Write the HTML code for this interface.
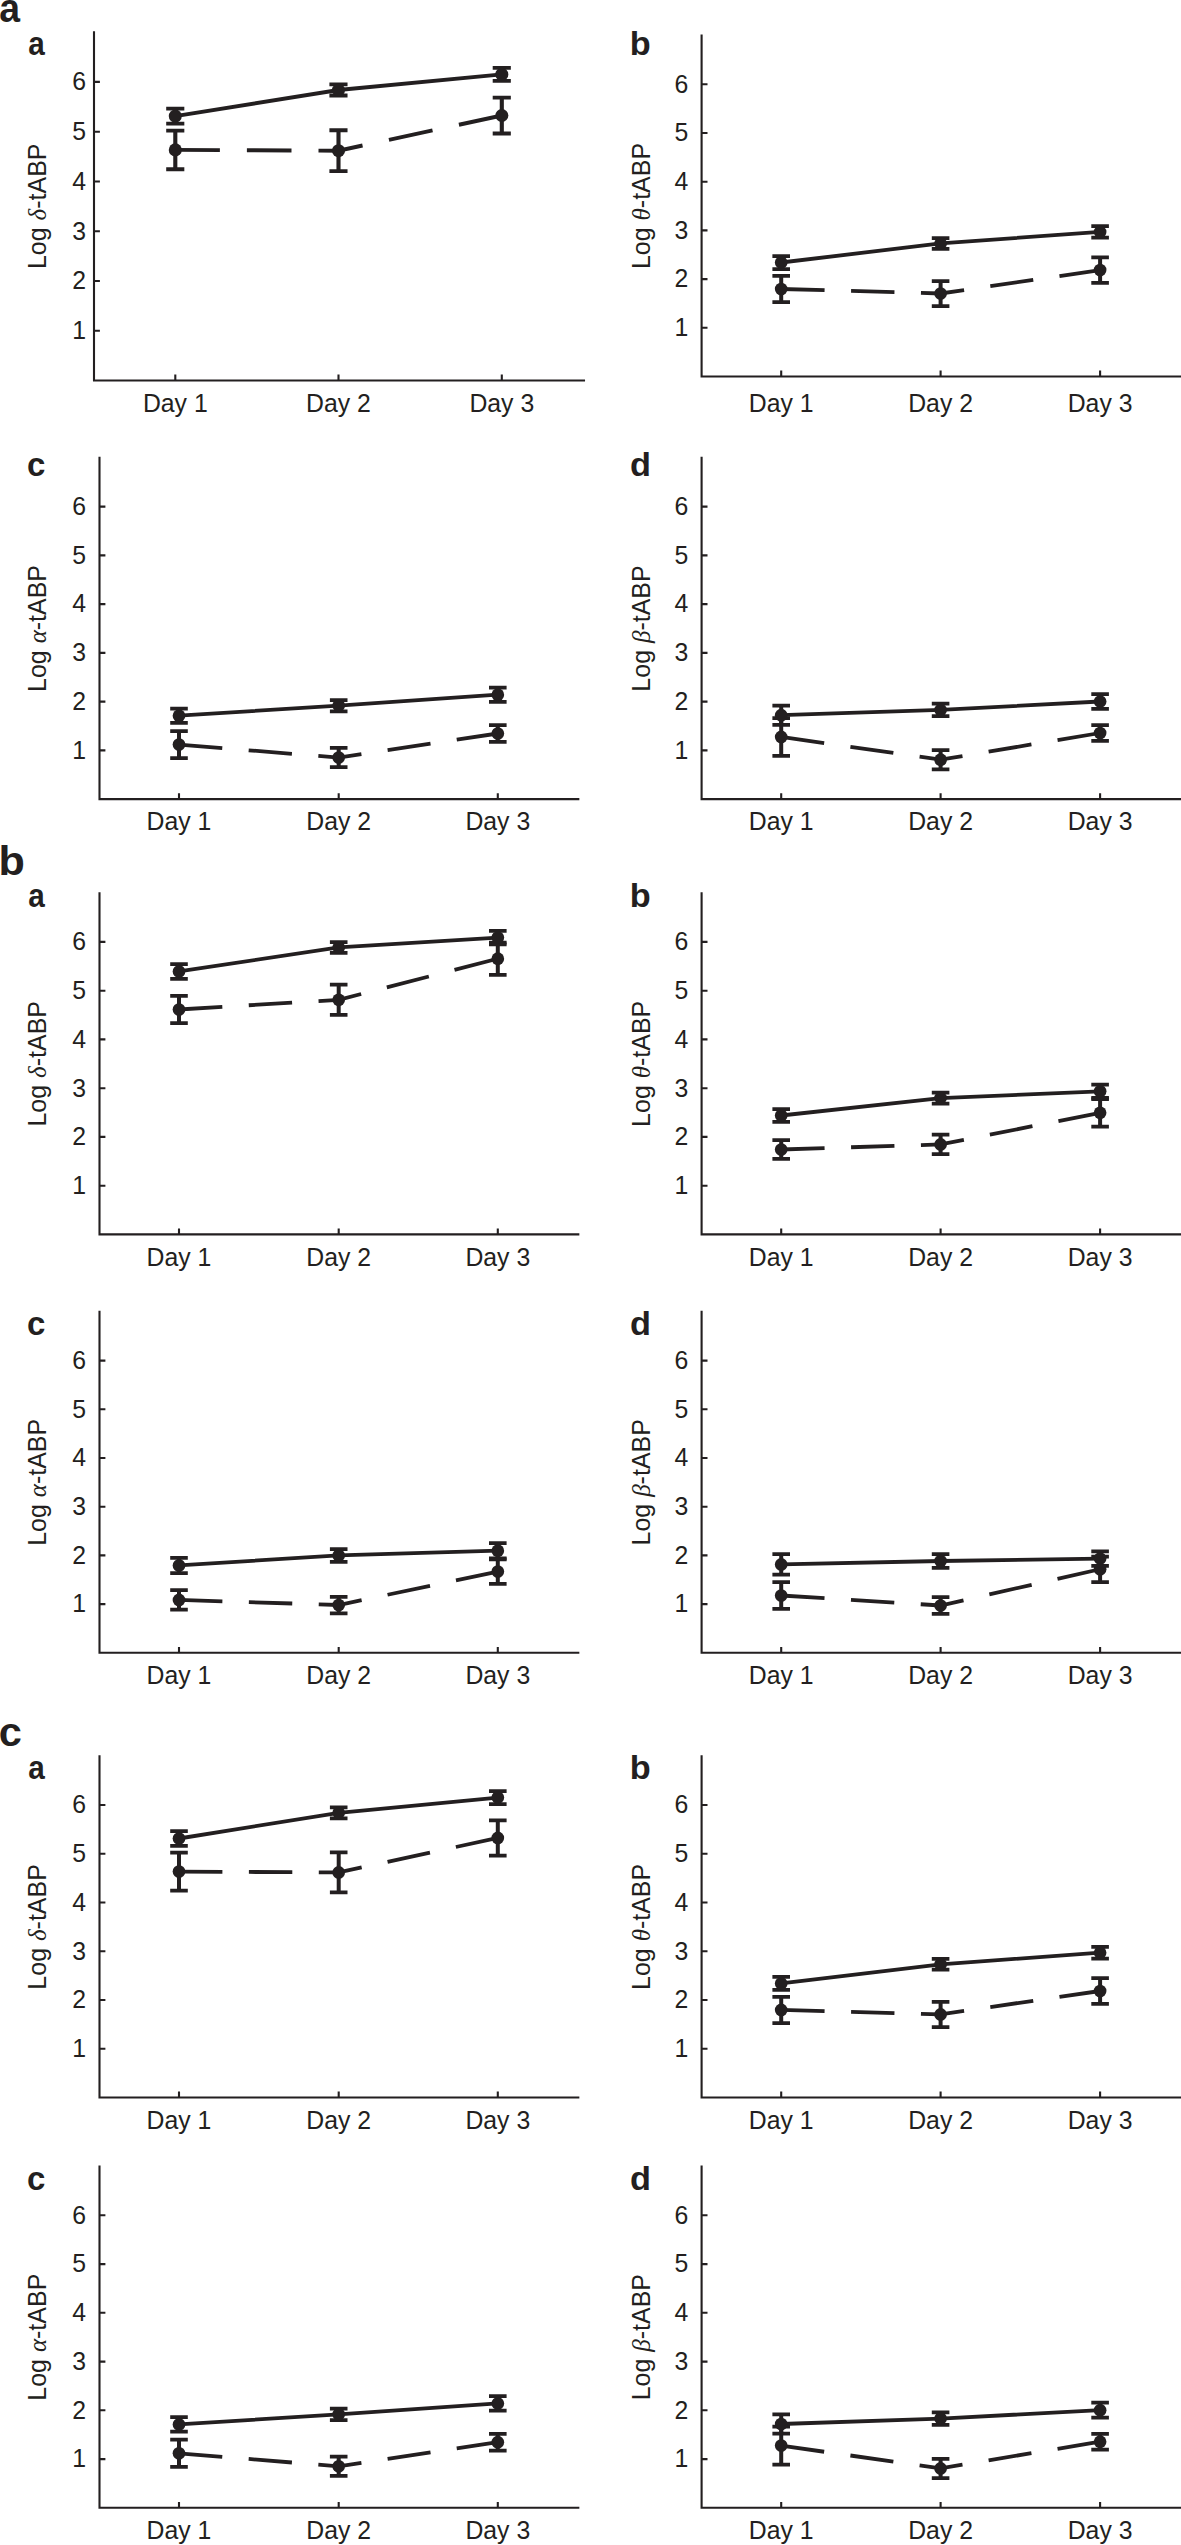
<!DOCTYPE html>
<html><head><meta charset="utf-8"><style>
html,body{margin:0;padding:0;background:#fff;}
svg{display:block;}
text{font-family:"Liberation Sans",sans-serif;font-size:24.8px;fill:#231f20;}
.g{font-family:"Liberation Serif",serif;font-style:italic;}
circle{fill:#231f20;}
path,polyline{fill:none;}
</style></head><body>
<svg width="1181" height="2545" viewBox="0 0 1181 2545">
<g><path d="M94.0 32.2V380.5H584.0" fill="none" stroke="#231f20" stroke-width="2.1" stroke-linecap="square"/><path d="M94.0 330.7h5.9M94.0 281.0h5.9M94.0 231.2h5.9M94.0 181.5h5.9M94.0 131.7h5.9M94.0 81.9h5.9M175.3 380.5v-5.9M338.5 380.5v-5.9M501.8 380.5v-5.9" stroke="#231f20" stroke-width="2.1"/><text transform="translate(86.1 339.0) scale(1 1.06)" text-anchor="end">1</text><text transform="translate(86.1 289.3) scale(1 1.06)" text-anchor="end">2</text><text transform="translate(86.1 239.5) scale(1 1.06)" text-anchor="end">3</text><text transform="translate(86.1 189.8) scale(1 1.06)" text-anchor="end">4</text><text transform="translate(86.1 140.0) scale(1 1.06)" text-anchor="end">5</text><text transform="translate(86.1 90.2) scale(1 1.06)" text-anchor="end">6</text><text transform="translate(175.3 411.6) scale(1 1.06)" text-anchor="middle">Day 1</text><text transform="translate(338.5 411.6) scale(1 1.06)" text-anchor="middle">Day 2</text><text transform="translate(501.8 411.6) scale(1 1.06)" text-anchor="middle">Day 3</text><text transform="translate(45.9 206.3) rotate(-90) scale(1 1.03)" text-anchor="middle" style="font-size:25.0px">Log <tspan class="g">δ</tspan>-tABP</text><text transform="translate(28.2 55.1) scale(0.9 1)" style="font-size:33px;font-weight:bold">a</text><polyline points="175.3,149.9 338.5,150.7 501.8,115.5" fill="none" stroke="#231f20" stroke-width="3.91" stroke-dasharray="44.6 27"/><path d="M175.3 130.6V169.3" stroke="#231f20" stroke-width="4.12"/><path d="M166.2 130.6h18.13M166.2 169.3h18.13" stroke="#231f20" stroke-width="3.86"/><circle cx="175.3" cy="149.9" r="6.54"/><path d="M338.5 130.3V171.1" stroke="#231f20" stroke-width="4.12"/><path d="M329.4 130.3h18.13M329.4 171.1h18.13" stroke="#231f20" stroke-width="3.86"/><circle cx="338.5" cy="150.7" r="6.54"/><path d="M501.8 97.6V133.5" stroke="#231f20" stroke-width="4.12"/><path d="M492.7 97.6h18.13M492.7 133.5h18.13" stroke="#231f20" stroke-width="3.86"/><circle cx="501.8" cy="115.5" r="6.54"/><polyline points="175.3,116.1 338.5,90.0 501.8,74.4" fill="none" stroke="#231f20" stroke-width="3.91"/><path d="M175.3 108.6V123.6" stroke="#231f20" stroke-width="4.12"/><path d="M166.2 108.6h18.13M166.2 123.6h18.13" stroke="#231f20" stroke-width="3.86"/><circle cx="175.3" cy="116.1" r="6.54"/><path d="M338.5 84.4V95.5" stroke="#231f20" stroke-width="4.12"/><path d="M329.4 84.4h18.13M329.4 95.5h18.13" stroke="#231f20" stroke-width="3.86"/><circle cx="338.5" cy="90.0" r="6.54"/><path d="M501.8 67.9V80.9" stroke="#231f20" stroke-width="4.12"/><path d="M492.7 67.9h18.13M492.7 80.9h18.13" stroke="#231f20" stroke-width="3.86"/><circle cx="501.8" cy="74.4" r="6.54"/></g><g><path d="M701.6 35.6V376.5H1181.0" fill="none" stroke="#231f20" stroke-width="2.1" stroke-linecap="square"/><path d="M701.6 327.8h5.9M701.6 279.1h5.9M701.6 230.4h5.9M701.6 181.7h5.9M701.6 133.0h5.9M701.6 84.3h5.9M781.2 376.5v-5.9M940.6 376.5v-5.9M1100.1 376.5v-5.9" stroke="#231f20" stroke-width="2.1"/><text transform="translate(688.4 336.1) scale(1 1.06)" text-anchor="end">1</text><text transform="translate(688.4 287.4) scale(1 1.06)" text-anchor="end">2</text><text transform="translate(688.4 238.7) scale(1 1.06)" text-anchor="end">3</text><text transform="translate(688.4 190.0) scale(1 1.06)" text-anchor="end">4</text><text transform="translate(688.4 141.3) scale(1 1.06)" text-anchor="end">5</text><text transform="translate(688.4 92.6) scale(1 1.06)" text-anchor="end">6</text><text transform="translate(781.2 411.5) scale(1 1.06)" text-anchor="middle">Day 1</text><text transform="translate(940.6 411.5) scale(1 1.06)" text-anchor="middle">Day 2</text><text transform="translate(1100.1 411.5) scale(1 1.06)" text-anchor="middle">Day 3</text><text transform="translate(649.6 206.0) rotate(-90) scale(1 1.03)" text-anchor="middle" style="font-size:25.0px">Log <tspan class="g">θ</tspan>-tABP</text><text transform="translate(629.8 55.1) scale(1.04 1)" style="font-size:33px;font-weight:bold">b</text><polyline points="781.2,289.0 940.6,293.5 1100.1,270.1" fill="none" stroke="#231f20" stroke-width="3.80" stroke-dasharray="43.4 26.5"/><path d="M781.2 275.9V302.1" stroke="#231f20" stroke-width="4.00"/><path d="M772.4 275.9h17.60M772.4 302.1h17.60" stroke="#231f20" stroke-width="3.75"/><circle cx="781.2" cy="289.0" r="6.35"/><path d="M940.6 281.0V306.0" stroke="#231f20" stroke-width="4.00"/><path d="M931.8 281.0h17.60M931.8 306.0h17.60" stroke="#231f20" stroke-width="3.75"/><circle cx="940.6" cy="293.5" r="6.35"/><path d="M1100.1 257.3V282.9" stroke="#231f20" stroke-width="4.00"/><path d="M1091.3 257.3h17.60M1091.3 282.9h17.60" stroke="#231f20" stroke-width="3.75"/><circle cx="1100.1" cy="270.1" r="6.35"/><polyline points="781.2,262.5 940.6,243.4 1100.1,231.9" fill="none" stroke="#231f20" stroke-width="3.80"/><path d="M781.2 256.1V269.0" stroke="#231f20" stroke-width="4.00"/><path d="M772.4 256.1h17.60M772.4 269.0h17.60" stroke="#231f20" stroke-width="3.75"/><circle cx="781.2" cy="262.5" r="6.35"/><path d="M940.6 238.0V248.8" stroke="#231f20" stroke-width="4.00"/><path d="M931.8 238.0h17.60M931.8 248.8h17.60" stroke="#231f20" stroke-width="3.75"/><circle cx="940.6" cy="243.4" r="6.35"/><path d="M1100.1 226.0V237.7" stroke="#231f20" stroke-width="4.00"/><path d="M1091.3 226.0h17.60M1091.3 237.7h17.60" stroke="#231f20" stroke-width="3.75"/><circle cx="1100.1" cy="231.9" r="6.35"/></g><g><path d="M99.5 457.9V799.1H578.3" fill="none" stroke="#231f20" stroke-width="2.1" stroke-linecap="square"/><path d="M99.5 750.4h5.9M99.5 701.6h5.9M99.5 652.9h5.9M99.5 604.1h5.9M99.5 555.4h5.9M99.5 506.6h5.9M179.0 799.1v-5.9M338.7 799.1v-5.9M497.8 799.1v-5.9" stroke="#231f20" stroke-width="2.1"/><text transform="translate(86.1 758.6) scale(1 1.06)" text-anchor="end">1</text><text transform="translate(86.1 709.9) scale(1 1.06)" text-anchor="end">2</text><text transform="translate(86.1 661.1) scale(1 1.06)" text-anchor="end">3</text><text transform="translate(86.1 612.4) scale(1 1.06)" text-anchor="end">4</text><text transform="translate(86.1 563.6) scale(1 1.06)" text-anchor="end">5</text><text transform="translate(86.1 514.9) scale(1 1.06)" text-anchor="end">6</text><text transform="translate(179.0 830.2) scale(1 1.06)" text-anchor="middle">Day 1</text><text transform="translate(338.7 830.2) scale(1 1.06)" text-anchor="middle">Day 2</text><text transform="translate(497.8 830.2) scale(1 1.06)" text-anchor="middle">Day 3</text><text transform="translate(45.9 628.5) rotate(-90) scale(1 1.03)" text-anchor="middle" style="font-size:25.0px">Log <tspan class="g">α</tspan>-tABP</text><text x="26.9" y="475.7" style="font-size:33px;font-weight:bold">c</text><polyline points="179.0,744.6 338.7,757.6 497.8,733.5" fill="none" stroke="#231f20" stroke-width="3.80" stroke-dasharray="43.4 26.5"/><path d="M179.0 731.0V758.1" stroke="#231f20" stroke-width="4.00"/><path d="M170.2 731.0h17.60M170.2 758.1h17.60" stroke="#231f20" stroke-width="3.75"/><circle cx="179.0" cy="744.6" r="6.35"/><path d="M338.7 747.9V767.2" stroke="#231f20" stroke-width="4.00"/><path d="M329.9 747.9h17.60M329.9 767.2h17.60" stroke="#231f20" stroke-width="3.75"/><circle cx="338.7" cy="757.6" r="6.35"/><path d="M497.8 725.1V741.9" stroke="#231f20" stroke-width="4.00"/><path d="M489.0 725.1h17.60M489.0 741.9h17.60" stroke="#231f20" stroke-width="3.75"/><circle cx="497.8" cy="733.5" r="6.35"/><polyline points="179.0,715.7 338.7,705.6 497.8,694.7" fill="none" stroke="#231f20" stroke-width="3.80"/><path d="M179.0 708.5V722.9" stroke="#231f20" stroke-width="4.00"/><path d="M170.2 708.5h17.60M170.2 722.9h17.60" stroke="#231f20" stroke-width="3.75"/><circle cx="179.0" cy="715.7" r="6.35"/><path d="M338.7 700.0V711.3" stroke="#231f20" stroke-width="4.00"/><path d="M329.9 700.0h17.60M329.9 711.3h17.60" stroke="#231f20" stroke-width="3.75"/><circle cx="338.7" cy="705.6" r="6.35"/><path d="M497.8 687.5V701.9" stroke="#231f20" stroke-width="4.00"/><path d="M489.0 687.5h17.60M489.0 701.9h17.60" stroke="#231f20" stroke-width="3.75"/><circle cx="497.8" cy="694.7" r="6.35"/></g><g><path d="M701.6 457.9V799.1H1181.0" fill="none" stroke="#231f20" stroke-width="2.1" stroke-linecap="square"/><path d="M701.6 750.4h5.9M701.6 701.6h5.9M701.6 652.9h5.9M701.6 604.1h5.9M701.6 555.4h5.9M701.6 506.6h5.9M781.2 799.1v-5.9M940.6 799.1v-5.9M1100.1 799.1v-5.9" stroke="#231f20" stroke-width="2.1"/><text transform="translate(688.4 758.6) scale(1 1.06)" text-anchor="end">1</text><text transform="translate(688.4 709.9) scale(1 1.06)" text-anchor="end">2</text><text transform="translate(688.4 661.1) scale(1 1.06)" text-anchor="end">3</text><text transform="translate(688.4 612.4) scale(1 1.06)" text-anchor="end">4</text><text transform="translate(688.4 563.6) scale(1 1.06)" text-anchor="end">5</text><text transform="translate(688.4 514.9) scale(1 1.06)" text-anchor="end">6</text><text transform="translate(781.2 830.2) scale(1 1.06)" text-anchor="middle">Day 1</text><text transform="translate(940.6 830.2) scale(1 1.06)" text-anchor="middle">Day 2</text><text transform="translate(1100.1 830.2) scale(1 1.06)" text-anchor="middle">Day 3</text><text transform="translate(649.6 628.5) rotate(-90) scale(1 1.03)" text-anchor="middle" style="font-size:25.0px">Log <tspan class="g">β</tspan>-tABP</text><text transform="translate(630.0 475.7) scale(1.04 1)" style="font-size:33px;font-weight:bold">d</text><polyline points="781.2,736.9 940.6,759.7 1100.1,733.0" fill="none" stroke="#231f20" stroke-width="3.80" stroke-dasharray="43.4 26.5"/><path d="M781.2 718.0V755.9" stroke="#231f20" stroke-width="4.00"/><path d="M772.4 718.0h17.60M772.4 755.9h17.60" stroke="#231f20" stroke-width="3.75"/><circle cx="781.2" cy="736.9" r="6.35"/><path d="M940.6 750.1V769.3" stroke="#231f20" stroke-width="4.00"/><path d="M931.8 750.1h17.60M931.8 769.3h17.60" stroke="#231f20" stroke-width="3.75"/><circle cx="940.6" cy="759.7" r="6.35"/><path d="M1100.1 725.2V740.8" stroke="#231f20" stroke-width="4.00"/><path d="M1091.3 725.2h17.60M1091.3 740.8h17.60" stroke="#231f20" stroke-width="3.75"/><circle cx="1100.1" cy="733.0" r="6.35"/><polyline points="781.2,715.2 940.6,709.9 1100.1,701.5" fill="none" stroke="#231f20" stroke-width="3.80"/><path d="M781.2 705.6V724.9" stroke="#231f20" stroke-width="4.00"/><path d="M772.4 705.6h17.60M772.4 724.9h17.60" stroke="#231f20" stroke-width="3.75"/><circle cx="781.2" cy="715.2" r="6.35"/><path d="M940.6 703.7V716.2" stroke="#231f20" stroke-width="4.00"/><path d="M931.8 703.7h17.60M931.8 716.2h17.60" stroke="#231f20" stroke-width="3.75"/><circle cx="940.6" cy="709.9" r="6.35"/><path d="M1100.1 694.0V708.9" stroke="#231f20" stroke-width="4.00"/><path d="M1091.3 694.0h17.60M1091.3 708.9h17.60" stroke="#231f20" stroke-width="3.75"/><circle cx="1100.1" cy="701.5" r="6.35"/></g><g><path d="M99.5 893.2V1234.4H578.3" fill="none" stroke="#231f20" stroke-width="2.1" stroke-linecap="square"/><path d="M99.5 1185.7h5.9M99.5 1136.9h5.9M99.5 1088.2h5.9M99.5 1039.4h5.9M99.5 990.7h5.9M99.5 941.9h5.9M179.0 1234.4v-5.9M338.7 1234.4v-5.9M497.8 1234.4v-5.9" stroke="#231f20" stroke-width="2.1"/><text transform="translate(86.1 1194.0) scale(1 1.06)" text-anchor="end">1</text><text transform="translate(86.1 1145.2) scale(1 1.06)" text-anchor="end">2</text><text transform="translate(86.1 1096.5) scale(1 1.06)" text-anchor="end">3</text><text transform="translate(86.1 1047.7) scale(1 1.06)" text-anchor="end">4</text><text transform="translate(86.1 999.0) scale(1 1.06)" text-anchor="end">5</text><text transform="translate(86.1 950.2) scale(1 1.06)" text-anchor="end">6</text><text transform="translate(179.0 1265.5) scale(1 1.06)" text-anchor="middle">Day 1</text><text transform="translate(338.7 1265.5) scale(1 1.06)" text-anchor="middle">Day 2</text><text transform="translate(497.8 1265.5) scale(1 1.06)" text-anchor="middle">Day 3</text><text transform="translate(45.9 1063.8) rotate(-90) scale(1 1.03)" text-anchor="middle" style="font-size:25.0px">Log <tspan class="g">δ</tspan>-tABP</text><text transform="translate(28.2 906.5) scale(0.9 1)" style="font-size:33px;font-weight:bold">a</text><polyline points="179.0,1009.5 338.7,999.8 497.8,958.7" fill="none" stroke="#231f20" stroke-width="3.80" stroke-dasharray="43.4 26.5"/><path d="M179.0 995.9V1023.0" stroke="#231f20" stroke-width="4.00"/><path d="M170.2 995.9h17.60M170.2 1023.0h17.60" stroke="#231f20" stroke-width="3.75"/><circle cx="179.0" cy="1009.5" r="6.35"/><path d="M338.7 984.7V1014.8" stroke="#231f20" stroke-width="4.00"/><path d="M329.9 984.7h17.60M329.9 1014.8h17.60" stroke="#231f20" stroke-width="3.75"/><circle cx="338.7" cy="999.8" r="6.35"/><path d="M497.8 942.6V974.8" stroke="#231f20" stroke-width="4.00"/><path d="M489.0 942.6h17.60M489.0 974.8h17.60" stroke="#231f20" stroke-width="3.75"/><circle cx="497.8" cy="958.7" r="6.35"/><polyline points="179.0,971.4 338.7,947.4 497.8,937.6" fill="none" stroke="#231f20" stroke-width="3.80"/><path d="M179.0 964.0V978.9" stroke="#231f20" stroke-width="4.00"/><path d="M170.2 964.0h17.60M170.2 978.9h17.60" stroke="#231f20" stroke-width="3.75"/><circle cx="179.0" cy="971.4" r="6.35"/><path d="M338.7 942.0V952.8" stroke="#231f20" stroke-width="4.00"/><path d="M329.9 942.0h17.60M329.9 952.8h17.60" stroke="#231f20" stroke-width="3.75"/><circle cx="338.7" cy="947.4" r="6.35"/><path d="M497.8 930.8V944.3" stroke="#231f20" stroke-width="4.00"/><path d="M489.0 930.8h17.60M489.0 944.3h17.60" stroke="#231f20" stroke-width="3.75"/><circle cx="497.8" cy="937.6" r="6.35"/></g><g><path d="M701.6 893.2V1234.4H1181.0" fill="none" stroke="#231f20" stroke-width="2.1" stroke-linecap="square"/><path d="M701.6 1185.7h5.9M701.6 1136.9h5.9M701.6 1088.2h5.9M701.6 1039.4h5.9M701.6 990.7h5.9M701.6 941.9h5.9M781.2 1234.4v-5.9M940.6 1234.4v-5.9M1100.1 1234.4v-5.9" stroke="#231f20" stroke-width="2.1"/><text transform="translate(688.4 1194.0) scale(1 1.06)" text-anchor="end">1</text><text transform="translate(688.4 1145.2) scale(1 1.06)" text-anchor="end">2</text><text transform="translate(688.4 1096.5) scale(1 1.06)" text-anchor="end">3</text><text transform="translate(688.4 1047.7) scale(1 1.06)" text-anchor="end">4</text><text transform="translate(688.4 999.0) scale(1 1.06)" text-anchor="end">5</text><text transform="translate(688.4 950.2) scale(1 1.06)" text-anchor="end">6</text><text transform="translate(781.2 1265.5) scale(1 1.06)" text-anchor="middle">Day 1</text><text transform="translate(940.6 1265.5) scale(1 1.06)" text-anchor="middle">Day 2</text><text transform="translate(1100.1 1265.5) scale(1 1.06)" text-anchor="middle">Day 3</text><text transform="translate(649.6 1063.8) rotate(-90) scale(1 1.03)" text-anchor="middle" style="font-size:25.0px">Log <tspan class="g">θ</tspan>-tABP</text><text transform="translate(629.8 906.5) scale(1.04 1)" style="font-size:33px;font-weight:bold">b</text><polyline points="781.2,1149.5 940.6,1144.4 1100.1,1112.8" fill="none" stroke="#231f20" stroke-width="3.80" stroke-dasharray="43.4 26.5"/><path d="M781.2 1140.2V1158.8" stroke="#231f20" stroke-width="4.00"/><path d="M772.4 1140.2h17.60M772.4 1158.8h17.60" stroke="#231f20" stroke-width="3.75"/><circle cx="781.2" cy="1149.5" r="6.35"/><path d="M940.6 1134.7V1154.0" stroke="#231f20" stroke-width="4.00"/><path d="M931.8 1134.7h17.60M931.8 1154.0h17.60" stroke="#231f20" stroke-width="3.75"/><circle cx="940.6" cy="1144.4" r="6.35"/><path d="M1100.1 1099.0V1126.6" stroke="#231f20" stroke-width="4.00"/><path d="M1091.3 1099.0h17.60M1091.3 1126.6h17.60" stroke="#231f20" stroke-width="3.75"/><circle cx="1100.1" cy="1112.8" r="6.35"/><polyline points="781.2,1115.5 940.6,1098.1 1100.1,1091.3" fill="none" stroke="#231f20" stroke-width="3.80"/><path d="M781.2 1109.0V1121.9" stroke="#231f20" stroke-width="4.00"/><path d="M772.4 1109.0h17.60M772.4 1121.9h17.60" stroke="#231f20" stroke-width="3.75"/><circle cx="781.2" cy="1115.5" r="6.35"/><path d="M940.6 1092.7V1103.5" stroke="#231f20" stroke-width="4.00"/><path d="M931.8 1092.7h17.60M931.8 1103.5h17.60" stroke="#231f20" stroke-width="3.75"/><circle cx="940.6" cy="1098.1" r="6.35"/><path d="M1100.1 1084.7V1097.9" stroke="#231f20" stroke-width="4.00"/><path d="M1091.3 1084.7h17.60M1091.3 1097.9h17.60" stroke="#231f20" stroke-width="3.75"/><circle cx="1100.1" cy="1091.3" r="6.35"/></g><g><path d="M99.5 1311.9V1652.8H578.3" fill="none" stroke="#231f20" stroke-width="2.1" stroke-linecap="square"/><path d="M99.5 1604.1h5.9M99.5 1555.4h5.9M99.5 1506.7h5.9M99.5 1458.0h5.9M99.5 1409.3h5.9M99.5 1360.6h5.9M179.0 1652.8v-5.9M338.7 1652.8v-5.9M497.8 1652.8v-5.9" stroke="#231f20" stroke-width="2.1"/><text transform="translate(86.1 1612.4) scale(1 1.06)" text-anchor="end">1</text><text transform="translate(86.1 1563.7) scale(1 1.06)" text-anchor="end">2</text><text transform="translate(86.1 1515.0) scale(1 1.06)" text-anchor="end">3</text><text transform="translate(86.1 1466.3) scale(1 1.06)" text-anchor="end">4</text><text transform="translate(86.1 1417.6) scale(1 1.06)" text-anchor="end">5</text><text transform="translate(86.1 1368.9) scale(1 1.06)" text-anchor="end">6</text><text transform="translate(179.0 1683.9) scale(1 1.06)" text-anchor="middle">Day 1</text><text transform="translate(338.7 1683.9) scale(1 1.06)" text-anchor="middle">Day 2</text><text transform="translate(497.8 1683.9) scale(1 1.06)" text-anchor="middle">Day 3</text><text transform="translate(45.9 1482.3) rotate(-90) scale(1 1.03)" text-anchor="middle" style="font-size:25.0px">Log <tspan class="g">α</tspan>-tABP</text><text x="26.9" y="1335.2" style="font-size:33px;font-weight:bold">c</text><polyline points="179.0,1599.9 338.7,1605.0 497.8,1571.6" fill="none" stroke="#231f20" stroke-width="3.80" stroke-dasharray="43.4 26.5"/><path d="M179.0 1590.1V1609.7" stroke="#231f20" stroke-width="4.00"/><path d="M170.2 1590.1h17.60M170.2 1609.7h17.60" stroke="#231f20" stroke-width="3.75"/><circle cx="179.0" cy="1599.9" r="6.35"/><path d="M338.7 1596.8V1613.3" stroke="#231f20" stroke-width="4.00"/><path d="M329.9 1596.8h17.60M329.9 1613.3h17.60" stroke="#231f20" stroke-width="3.75"/><circle cx="338.7" cy="1605.0" r="6.35"/><path d="M497.8 1559.3V1583.9" stroke="#231f20" stroke-width="4.00"/><path d="M489.0 1559.3h17.60M489.0 1583.9h17.60" stroke="#231f20" stroke-width="3.75"/><circle cx="497.8" cy="1571.6" r="6.35"/><polyline points="179.0,1565.4 338.7,1555.4 497.8,1550.7" fill="none" stroke="#231f20" stroke-width="3.80"/><path d="M179.0 1557.8V1573.0" stroke="#231f20" stroke-width="4.00"/><path d="M170.2 1557.8h17.60M170.2 1573.0h17.60" stroke="#231f20" stroke-width="3.75"/><circle cx="179.0" cy="1565.4" r="6.35"/><path d="M338.7 1549.0V1561.9" stroke="#231f20" stroke-width="4.00"/><path d="M329.9 1549.0h17.60M329.9 1561.9h17.60" stroke="#231f20" stroke-width="3.75"/><circle cx="338.7" cy="1555.4" r="6.35"/><path d="M497.8 1543.0V1558.4" stroke="#231f20" stroke-width="4.00"/><path d="M489.0 1543.0h17.60M489.0 1558.4h17.60" stroke="#231f20" stroke-width="3.75"/><circle cx="497.8" cy="1550.7" r="6.35"/></g><g><path d="M701.6 1311.9V1652.8H1181.0" fill="none" stroke="#231f20" stroke-width="2.1" stroke-linecap="square"/><path d="M701.6 1604.1h5.9M701.6 1555.4h5.9M701.6 1506.7h5.9M701.6 1458.0h5.9M701.6 1409.3h5.9M701.6 1360.6h5.9M781.2 1652.8v-5.9M940.6 1652.8v-5.9M1100.1 1652.8v-5.9" stroke="#231f20" stroke-width="2.1"/><text transform="translate(688.4 1612.4) scale(1 1.06)" text-anchor="end">1</text><text transform="translate(688.4 1563.7) scale(1 1.06)" text-anchor="end">2</text><text transform="translate(688.4 1515.0) scale(1 1.06)" text-anchor="end">3</text><text transform="translate(688.4 1466.3) scale(1 1.06)" text-anchor="end">4</text><text transform="translate(688.4 1417.6) scale(1 1.06)" text-anchor="end">5</text><text transform="translate(688.4 1368.9) scale(1 1.06)" text-anchor="end">6</text><text transform="translate(781.2 1683.9) scale(1 1.06)" text-anchor="middle">Day 1</text><text transform="translate(940.6 1683.9) scale(1 1.06)" text-anchor="middle">Day 2</text><text transform="translate(1100.1 1683.9) scale(1 1.06)" text-anchor="middle">Day 3</text><text transform="translate(649.6 1482.3) rotate(-90) scale(1 1.03)" text-anchor="middle" style="font-size:25.0px">Log <tspan class="g">β</tspan>-tABP</text><text transform="translate(630.0 1335.2) scale(1.04 1)" style="font-size:33px;font-weight:bold">d</text><polyline points="781.2,1595.5 940.6,1605.5 1100.1,1569.2" fill="none" stroke="#231f20" stroke-width="3.80" stroke-dasharray="43.4 26.5"/><path d="M781.2 1582.1V1608.9" stroke="#231f20" stroke-width="4.00"/><path d="M772.4 1582.1h17.60M772.4 1608.9h17.60" stroke="#231f20" stroke-width="3.75"/><circle cx="781.2" cy="1595.5" r="6.35"/><path d="M940.6 1597.1V1613.8" stroke="#231f20" stroke-width="4.00"/><path d="M931.8 1597.1h17.60M931.8 1613.8h17.60" stroke="#231f20" stroke-width="3.75"/><circle cx="940.6" cy="1605.5" r="6.35"/><path d="M1100.1 1556.5V1582.0" stroke="#231f20" stroke-width="4.00"/><path d="M1091.3 1556.5h17.60M1091.3 1582.0h17.60" stroke="#231f20" stroke-width="3.75"/><circle cx="1100.1" cy="1569.2" r="6.35"/><polyline points="781.2,1564.4 940.6,1561.0 1100.1,1558.6" fill="none" stroke="#231f20" stroke-width="3.80"/><path d="M781.2 1554.0V1574.7" stroke="#231f20" stroke-width="4.00"/><path d="M772.4 1554.0h17.60M772.4 1574.7h17.60" stroke="#231f20" stroke-width="3.75"/><circle cx="781.2" cy="1564.4" r="6.35"/><path d="M940.6 1554.1V1567.9" stroke="#231f20" stroke-width="4.00"/><path d="M931.8 1554.1h17.60M931.8 1567.9h17.60" stroke="#231f20" stroke-width="3.75"/><circle cx="940.6" cy="1561.0" r="6.35"/><path d="M1100.1 1551.3V1565.8" stroke="#231f20" stroke-width="4.00"/><path d="M1091.3 1551.3h17.60M1091.3 1565.8h17.60" stroke="#231f20" stroke-width="3.75"/><circle cx="1100.1" cy="1558.6" r="6.35"/></g><g><path d="M99.5 1756.2V2097.5H578.3" fill="none" stroke="#231f20" stroke-width="2.1" stroke-linecap="square"/><path d="M99.5 2048.8h5.9M99.5 2000.0h5.9M99.5 1951.2h5.9M99.5 1902.5h5.9M99.5 1853.8h5.9M99.5 1805.0h5.9M179.0 2097.5v-5.9M338.7 2097.5v-5.9M497.8 2097.5v-5.9" stroke="#231f20" stroke-width="2.1"/><text transform="translate(86.1 2057.1) scale(1 1.06)" text-anchor="end">1</text><text transform="translate(86.1 2008.3) scale(1 1.06)" text-anchor="end">2</text><text transform="translate(86.1 1959.5) scale(1 1.06)" text-anchor="end">3</text><text transform="translate(86.1 1910.8) scale(1 1.06)" text-anchor="end">4</text><text transform="translate(86.1 1862.0) scale(1 1.06)" text-anchor="end">5</text><text transform="translate(86.1 1813.3) scale(1 1.06)" text-anchor="end">6</text><text transform="translate(179.0 2128.6) scale(1 1.06)" text-anchor="middle">Day 1</text><text transform="translate(338.7 2128.6) scale(1 1.06)" text-anchor="middle">Day 2</text><text transform="translate(497.8 2128.6) scale(1 1.06)" text-anchor="middle">Day 3</text><text transform="translate(45.9 1926.9) rotate(-90) scale(1 1.03)" text-anchor="middle" style="font-size:25.0px">Log <tspan class="g">δ</tspan>-tABP</text><text transform="translate(28.2 1779.4) scale(0.9 1)" style="font-size:33px;font-weight:bold">a</text><polyline points="179.0,1871.6 338.7,1872.4 497.8,1837.9" fill="none" stroke="#231f20" stroke-width="3.80" stroke-dasharray="43.4 26.5"/><path d="M179.0 1852.6V1890.6" stroke="#231f20" stroke-width="4.00"/><path d="M170.2 1852.6h17.60M170.2 1890.6h17.60" stroke="#231f20" stroke-width="3.75"/><circle cx="179.0" cy="1871.6" r="6.35"/><path d="M338.7 1852.4V1892.4" stroke="#231f20" stroke-width="4.00"/><path d="M329.9 1852.4h17.60M329.9 1892.4h17.60" stroke="#231f20" stroke-width="3.75"/><circle cx="338.7" cy="1872.4" r="6.35"/><path d="M497.8 1820.3V1855.5" stroke="#231f20" stroke-width="4.00"/><path d="M489.0 1820.3h17.60M489.0 1855.5h17.60" stroke="#231f20" stroke-width="3.75"/><circle cx="497.8" cy="1837.9" r="6.35"/><polyline points="179.0,1838.5 338.7,1812.8 497.8,1797.6" fill="none" stroke="#231f20" stroke-width="3.80"/><path d="M179.0 1831.1V1845.9" stroke="#231f20" stroke-width="4.00"/><path d="M170.2 1831.1h17.60M170.2 1845.9h17.60" stroke="#231f20" stroke-width="3.75"/><circle cx="179.0" cy="1838.5" r="6.35"/><path d="M338.7 1807.4V1818.3" stroke="#231f20" stroke-width="4.00"/><path d="M329.9 1807.4h17.60M329.9 1818.3h17.60" stroke="#231f20" stroke-width="3.75"/><circle cx="338.7" cy="1812.8" r="6.35"/><path d="M497.8 1791.2V1804.0" stroke="#231f20" stroke-width="4.00"/><path d="M489.0 1791.2h17.60M489.0 1804.0h17.60" stroke="#231f20" stroke-width="3.75"/><circle cx="497.8" cy="1797.6" r="6.35"/></g><g><path d="M701.6 1756.2V2097.5H1181.0" fill="none" stroke="#231f20" stroke-width="2.1" stroke-linecap="square"/><path d="M701.6 2048.8h5.9M701.6 2000.0h5.9M701.6 1951.2h5.9M701.6 1902.5h5.9M701.6 1853.8h5.9M701.6 1805.0h5.9M781.2 2097.5v-5.9M940.6 2097.5v-5.9M1100.1 2097.5v-5.9" stroke="#231f20" stroke-width="2.1"/><text transform="translate(688.4 2057.1) scale(1 1.06)" text-anchor="end">1</text><text transform="translate(688.4 2008.3) scale(1 1.06)" text-anchor="end">2</text><text transform="translate(688.4 1959.5) scale(1 1.06)" text-anchor="end">3</text><text transform="translate(688.4 1910.8) scale(1 1.06)" text-anchor="end">4</text><text transform="translate(688.4 1862.0) scale(1 1.06)" text-anchor="end">5</text><text transform="translate(688.4 1813.3) scale(1 1.06)" text-anchor="end">6</text><text transform="translate(781.2 2128.6) scale(1 1.06)" text-anchor="middle">Day 1</text><text transform="translate(940.6 2128.6) scale(1 1.06)" text-anchor="middle">Day 2</text><text transform="translate(1100.1 2128.6) scale(1 1.06)" text-anchor="middle">Day 3</text><text transform="translate(649.6 1926.9) rotate(-90) scale(1 1.03)" text-anchor="middle" style="font-size:25.0px">Log <tspan class="g">θ</tspan>-tABP</text><text transform="translate(629.8 1779.4) scale(1.04 1)" style="font-size:33px;font-weight:bold">b</text><polyline points="781.2,2009.9 940.6,2014.4 1100.1,1991.0" fill="none" stroke="#231f20" stroke-width="3.80" stroke-dasharray="43.4 26.5"/><path d="M781.2 1996.8V2023.0" stroke="#231f20" stroke-width="4.00"/><path d="M772.4 1996.8h17.60M772.4 2023.0h17.60" stroke="#231f20" stroke-width="3.75"/><circle cx="781.2" cy="2009.9" r="6.35"/><path d="M940.6 2001.9V2027.0" stroke="#231f20" stroke-width="4.00"/><path d="M931.8 2001.9h17.60M931.8 2027.0h17.60" stroke="#231f20" stroke-width="3.75"/><circle cx="940.6" cy="2014.4" r="6.35"/><path d="M1100.1 1978.2V2003.8" stroke="#231f20" stroke-width="4.00"/><path d="M1091.3 1978.2h17.60M1091.3 2003.8h17.60" stroke="#231f20" stroke-width="3.75"/><circle cx="1100.1" cy="1991.0" r="6.35"/><polyline points="781.2,1983.4 940.6,1964.3 1100.1,1952.7" fill="none" stroke="#231f20" stroke-width="3.80"/><path d="M781.2 1976.9V1989.9" stroke="#231f20" stroke-width="4.00"/><path d="M772.4 1976.9h17.60M772.4 1989.9h17.60" stroke="#231f20" stroke-width="3.75"/><circle cx="781.2" cy="1983.4" r="6.35"/><path d="M940.6 1958.9V1969.7" stroke="#231f20" stroke-width="4.00"/><path d="M931.8 1958.9h17.60M931.8 1969.7h17.60" stroke="#231f20" stroke-width="3.75"/><circle cx="940.6" cy="1964.3" r="6.35"/><path d="M1100.1 1946.9V1958.6" stroke="#231f20" stroke-width="4.00"/><path d="M1091.3 1946.9h17.60M1091.3 1958.6h17.60" stroke="#231f20" stroke-width="3.75"/><circle cx="1100.1" cy="1952.7" r="6.35"/></g><g><path d="M99.5 2166.6V2507.8H578.3" fill="none" stroke="#231f20" stroke-width="2.1" stroke-linecap="square"/><path d="M99.5 2459.1h5.9M99.5 2410.3h5.9M99.5 2361.6h5.9M99.5 2312.8h5.9M99.5 2264.1h5.9M99.5 2215.3h5.9M179.0 2507.8v-5.9M338.7 2507.8v-5.9M497.8 2507.8v-5.9" stroke="#231f20" stroke-width="2.1"/><text transform="translate(86.1 2467.4) scale(1 1.06)" text-anchor="end">1</text><text transform="translate(86.1 2418.6) scale(1 1.06)" text-anchor="end">2</text><text transform="translate(86.1 2369.9) scale(1 1.06)" text-anchor="end">3</text><text transform="translate(86.1 2321.1) scale(1 1.06)" text-anchor="end">4</text><text transform="translate(86.1 2272.4) scale(1 1.06)" text-anchor="end">5</text><text transform="translate(86.1 2223.6) scale(1 1.06)" text-anchor="end">6</text><text transform="translate(179.0 2538.9) scale(1 1.06)" text-anchor="middle">Day 1</text><text transform="translate(338.7 2538.9) scale(1 1.06)" text-anchor="middle">Day 2</text><text transform="translate(497.8 2538.9) scale(1 1.06)" text-anchor="middle">Day 3</text><text transform="translate(45.9 2337.2) rotate(-90) scale(1 1.03)" text-anchor="middle" style="font-size:25.0px">Log <tspan class="g">α</tspan>-tABP</text><text x="26.9" y="2190.0" style="font-size:33px;font-weight:bold">c</text><polyline points="179.0,2453.3 338.7,2466.3 497.8,2442.2" fill="none" stroke="#231f20" stroke-width="3.80" stroke-dasharray="43.4 26.5"/><path d="M179.0 2439.7V2466.9" stroke="#231f20" stroke-width="4.00"/><path d="M170.2 2439.7h17.60M170.2 2466.9h17.60" stroke="#231f20" stroke-width="3.75"/><circle cx="179.0" cy="2453.3" r="6.35"/><path d="M338.7 2456.6V2475.9" stroke="#231f20" stroke-width="4.00"/><path d="M329.9 2456.6h17.60M329.9 2475.9h17.60" stroke="#231f20" stroke-width="3.75"/><circle cx="338.7" cy="2466.3" r="6.35"/><path d="M497.8 2433.8V2450.6" stroke="#231f20" stroke-width="4.00"/><path d="M489.0 2433.8h17.60M489.0 2450.6h17.60" stroke="#231f20" stroke-width="3.75"/><circle cx="497.8" cy="2442.2" r="6.35"/><polyline points="179.0,2424.4 338.7,2414.3 497.8,2403.4" fill="none" stroke="#231f20" stroke-width="3.80"/><path d="M179.0 2417.2V2431.6" stroke="#231f20" stroke-width="4.00"/><path d="M170.2 2417.2h17.60M170.2 2431.6h17.60" stroke="#231f20" stroke-width="3.75"/><circle cx="179.0" cy="2424.4" r="6.35"/><path d="M338.7 2408.7V2420.0" stroke="#231f20" stroke-width="4.00"/><path d="M329.9 2408.7h17.60M329.9 2420.0h17.60" stroke="#231f20" stroke-width="3.75"/><circle cx="338.7" cy="2414.3" r="6.35"/><path d="M497.8 2396.2V2410.6" stroke="#231f20" stroke-width="4.00"/><path d="M489.0 2396.2h17.60M489.0 2410.6h17.60" stroke="#231f20" stroke-width="3.75"/><circle cx="497.8" cy="2403.4" r="6.35"/></g><g><path d="M701.6 2166.6V2507.8H1181.0" fill="none" stroke="#231f20" stroke-width="2.1" stroke-linecap="square"/><path d="M701.6 2459.1h5.9M701.6 2410.3h5.9M701.6 2361.6h5.9M701.6 2312.8h5.9M701.6 2264.1h5.9M701.6 2215.3h5.9M781.2 2507.8v-5.9M940.6 2507.8v-5.9M1100.1 2507.8v-5.9" stroke="#231f20" stroke-width="2.1"/><text transform="translate(688.4 2467.4) scale(1 1.06)" text-anchor="end">1</text><text transform="translate(688.4 2418.6) scale(1 1.06)" text-anchor="end">2</text><text transform="translate(688.4 2369.9) scale(1 1.06)" text-anchor="end">3</text><text transform="translate(688.4 2321.1) scale(1 1.06)" text-anchor="end">4</text><text transform="translate(688.4 2272.4) scale(1 1.06)" text-anchor="end">5</text><text transform="translate(688.4 2223.6) scale(1 1.06)" text-anchor="end">6</text><text transform="translate(781.2 2538.9) scale(1 1.06)" text-anchor="middle">Day 1</text><text transform="translate(940.6 2538.9) scale(1 1.06)" text-anchor="middle">Day 2</text><text transform="translate(1100.1 2538.9) scale(1 1.06)" text-anchor="middle">Day 3</text><text transform="translate(649.6 2337.2) rotate(-90) scale(1 1.03)" text-anchor="middle" style="font-size:25.0px">Log <tspan class="g">β</tspan>-tABP</text><text transform="translate(630.0 2190.0) scale(1.04 1)" style="font-size:33px;font-weight:bold">d</text><polyline points="781.2,2445.6 940.6,2468.4 1100.1,2441.7" fill="none" stroke="#231f20" stroke-width="3.80" stroke-dasharray="43.4 26.5"/><path d="M781.2 2426.7V2464.6" stroke="#231f20" stroke-width="4.00"/><path d="M772.4 2426.7h17.60M772.4 2464.6h17.60" stroke="#231f20" stroke-width="3.75"/><circle cx="781.2" cy="2445.6" r="6.35"/><path d="M940.6 2458.8V2478.0" stroke="#231f20" stroke-width="4.00"/><path d="M931.8 2458.8h17.60M931.8 2478.0h17.60" stroke="#231f20" stroke-width="3.75"/><circle cx="940.6" cy="2468.4" r="6.35"/><path d="M1100.1 2433.9V2449.5" stroke="#231f20" stroke-width="4.00"/><path d="M1091.3 2433.9h17.60M1091.3 2449.5h17.60" stroke="#231f20" stroke-width="3.75"/><circle cx="1100.1" cy="2441.7" r="6.35"/><polyline points="781.2,2424.0 940.6,2418.6 1100.1,2410.2" fill="none" stroke="#231f20" stroke-width="3.80"/><path d="M781.2 2414.3V2433.6" stroke="#231f20" stroke-width="4.00"/><path d="M772.4 2414.3h17.60M772.4 2433.6h17.60" stroke="#231f20" stroke-width="3.75"/><circle cx="781.2" cy="2424.0" r="6.35"/><path d="M940.6 2412.4V2424.9" stroke="#231f20" stroke-width="4.00"/><path d="M931.8 2412.4h17.60M931.8 2424.9h17.60" stroke="#231f20" stroke-width="3.75"/><circle cx="940.6" cy="2418.6" r="6.35"/><path d="M1100.1 2402.7V2417.6" stroke="#231f20" stroke-width="4.00"/><path d="M1091.3 2402.7h17.60M1091.3 2417.6h17.60" stroke="#231f20" stroke-width="3.75"/><circle cx="1100.1" cy="2410.2" r="6.35"/></g><text transform="translate(-0.8 22.2) scale(0.9 1)" style="font-size:41.5px;font-weight:bold">a</text><text transform="translate(-1.4 875.1) scale(1.04 1)" style="font-size:41.5px;font-weight:bold">b</text><text x="-1.3" y="1745.5" style="font-size:41.5px;font-weight:bold">c</text>
</svg>
</body></html>
